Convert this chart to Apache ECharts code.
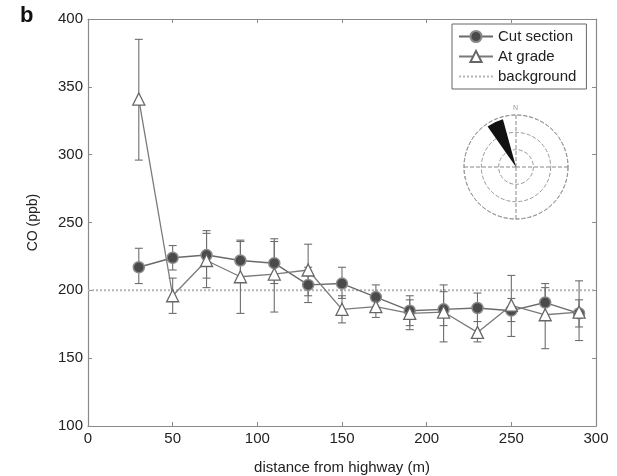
<!DOCTYPE html>
<html><head><meta charset="utf-8">
<script src="https://cdn.jsdelivr.net/npm/echarts@6/dist/echarts.min.js"></script>
<style>html,body{margin:0;padding:0;background:#fff}#c{width:617px;height:476px}</style>
</head><body><div id="c"></div>
<script>
// ---- data ----
const distances = [30, 50, 70, 90, 110, 130, 150, 170, 190, 210, 230, 250, 270, 290];
const cutMean  = [217, 224, 226, 222, 220, 204, 205, 195, 185, 186, 187, 185, 191, 183];
const cutLow   = [205, 215, 209, 207, 205, 191, 194, 186, 174, 174, 177, 177, 178, 173];
const cutHigh  = [231, 233, 244, 237, 238, 217, 217, 204, 196, 199, 198, 194, 205, 193];
const gradeMean = [341, 196, 222, 210, 212, 215, 186, 188, 183, 184, 169, 189, 182, 184];
const gradeLow  = [296, 183, 202, 183, 184, 196, 176, 180, 171, 162, 162, 166, 157, 163];
const gradeHigh = [385, 209, 242, 236, 236, 234, 196, 197, 193, 204, 186, 211, 202, 207];
const backgroundLevel = 200;
const xRange = [0, 300];
const yRange = [100, 400];
const windDirs = ['N','NNE','NE','ENE','E','ESE','SE','SSE','S','SSW','SW','WSW','W','WNW','NW','NNW'];
const windFreq = [0, 0, 0, 0, 0, 0, 0, 0, 0, 0, 0, 0, 0, 0, 0, 2.85];

const font = '"Liberation Sans", Arial, sans-serif';
const axisGray = '#8a8a8a';

function errData(lo, hi) { return distances.map((d, i) => [d, lo[i], hi[i]]); }
function renderErr(params, api) {
  const x = api.value(0);
  const lo = api.coord([x, api.value(1)]);
  const hi = api.coord([x, api.value(2)]);
  const w = 4;
  const st = { stroke: '#6e6e6e', lineWidth: 1.1 };
  return { type: 'group', children: [
    { type: 'line', shape: { x1: lo[0], y1: lo[1], x2: hi[0], y2: hi[1] }, style: st },
    { type: 'line', shape: { x1: lo[0] - w, y1: lo[1], x2: lo[0] + w, y2: lo[1] }, style: st },
    { type: 'line', shape: { x1: hi[0] - w, y1: hi[1], x2: hi[0] + w, y2: hi[1] }, style: st }
  ]};
}

const chart = echarts.init(document.getElementById('c'), null, { renderer: 'canvas' });
const baseX = { type: 'value', min: xRange[0], max: xRange[1], interval: 50,
  axisLine: { show: true, onZero: false, lineStyle: { color: axisGray, width: 1.2 } },
  axisTick: { show: true, inside: true, length: 4, lineStyle: { color: axisGray } },
  splitLine: { show: false } };
const baseY = { type: 'value', min: yRange[0], max: yRange[1], interval: 50,
  axisLine: { show: true, onZero: false, lineStyle: { color: axisGray, width: 1.2 } },
  axisTick: { show: true, inside: true, length: 4, lineStyle: { color: axisGray } },
  splitLine: { show: false } };

chart.setOption({
  animation: false,
  backgroundColor: '#fff',
  textStyle: { fontFamily: font },
  grid: { left: 88, right: 21, top: 19, bottom: 50, containLabel: false, outerBoundsMode: 'none' },
  xAxis: [
    Object.assign({}, baseX, { position: 'bottom', name: 'distance from highway (m)', nameLocation: 'middle', nameGap: 34,
      nameTextStyle: { fontSize: 15, color: '#222', fontFamily: font },
      axisLabel: { fontSize: 15, color: '#222', margin: 5, fontFamily: font } }),
    Object.assign({}, baseX, { position: 'top', axisLabel: { show: false } })
  ],
  yAxis: [
    Object.assign({}, baseY, { position: 'left', name: 'CO (ppb)', nameLocation: 'middle', nameGap: 48,
      nameTextStyle: { fontSize: 14, color: '#222', fontFamily: font },
      axisLabel: { fontSize: 15, color: '#222', margin: 5, fontFamily: font } }),
    Object.assign({}, baseY, { position: 'right', axisLabel: { show: false } })
  ],
  legend: {
    orient: 'vertical', left: 452, top: 24, width: 140,
    backgroundColor: '#fff', borderColor: '#666', borderWidth: 1, borderRadius: 0,
    padding: [5, 10, 5, 6], itemGap: 5, itemWidth: 34, itemHeight: 14,
    textStyle: { fontSize: 15, color: '#222', fontFamily: font },
    data: ['Cut section', 'At grade', { name: 'background', itemStyle: { opacity: 0 } }]
  },
  polar: [
    { center: [516, 167], radius: 52 },
    { center: [516, 167], radius: 52 }
  ],
  angleAxis: [
    { polarIndex: 0, type: 'value', min: 0, max: 360, interval: 90, startAngle: 90,
      axisLine: { show: true, lineStyle: { color: '#999', type: 'dashed', width: 1 } },
      axisTick: { show: false }, axisLabel: { show: false },
      splitLine: { show: true, lineStyle: { color: '#888', type: 'dashed', width: 1 } } },
    { polarIndex: 1, type: 'category', data: windDirs, startAngle: 104, boundaryGap: true,
      axisLine: { show: false }, axisTick: { show: false }, axisLabel: { show: false }, splitLine: { show: false } }
  ],
  radiusAxis: [
    { polarIndex: 0, type: 'value', min: 0, max: 3, interval: 1,
      axisLine: { show: false }, axisTick: { show: false }, axisLabel: { show: false },
      splitLine: { show: true, lineStyle: { color: '#999', type: 'dashed', width: 1 } } },
    { polarIndex: 1, type: 'value', min: 0, max: 3, show: false,
      axisLine: { show: false }, axisTick: { show: false }, axisLabel: { show: false }, splitLine: { show: false } }
  ],
  graphic: [
    { type: 'text', left: 20, top: 5, style: { text: 'b', font: 'bold 22px ' + font, fill: '#111' } },
    { type: 'text', left: 513, top: 105, style: { text: 'N', font: '7px ' + font, fill: '#999' } }
  ],
  series: [
    { name: 'background', type: 'line', xAxisIndex: 0, yAxisIndex: 0, symbol: 'none',
      data: [[xRange[0], backgroundLevel], [xRange[1], backgroundLevel]],
      lineStyle: { color: '#b5b5b5', type: 'dotted', width: 2 }, itemStyle: { color: '#b5b5b5' }, z: 1 },
    { name: 'cutErr', type: 'custom', xAxisIndex: 0, yAxisIndex: 0, renderItem: renderErr,
      encode: { x: 0, y: [1, 2] }, data: errData(cutLow, cutHigh), z: 2 },
    { name: 'gradeErr', type: 'custom', xAxisIndex: 0, yAxisIndex: 0, renderItem: renderErr,
      encode: { x: 0, y: [1, 2] }, data: errData(gradeLow, gradeHigh), z: 2 },
    { name: 'Cut section', type: 'line', xAxisIndex: 0, yAxisIndex: 0,
      data: distances.map((d, i) => [d, cutMean[i]]),
      symbol: 'circle', symbolSize: 11,
      lineStyle: { color: '#6a6a6a', width: 1.4 },
      itemStyle: { color: '#4a4a4a', borderColor: '#8a8a8a', borderWidth: 1.5 }, z: 3 },
    { name: 'At grade', type: 'line', xAxisIndex: 0, yAxisIndex: 0,
      data: distances.map((d, i) => [d, gradeMean[i]]),
      symbol: 'triangle', symbolSize: 12,
      lineStyle: { color: '#7a7a7a', width: 1.3 },
      itemStyle: { color: '#fff', borderColor: '#666', borderWidth: 1.3 }, z: 4 },
    { name: 'wind', type: 'bar', coordinateSystem: 'polar', polarIndex: 1,
      data: windFreq, barCategoryGap: '12%', itemStyle: { color: '#111' }, z: 5 }
  ]
});
</script>
</body></html>
